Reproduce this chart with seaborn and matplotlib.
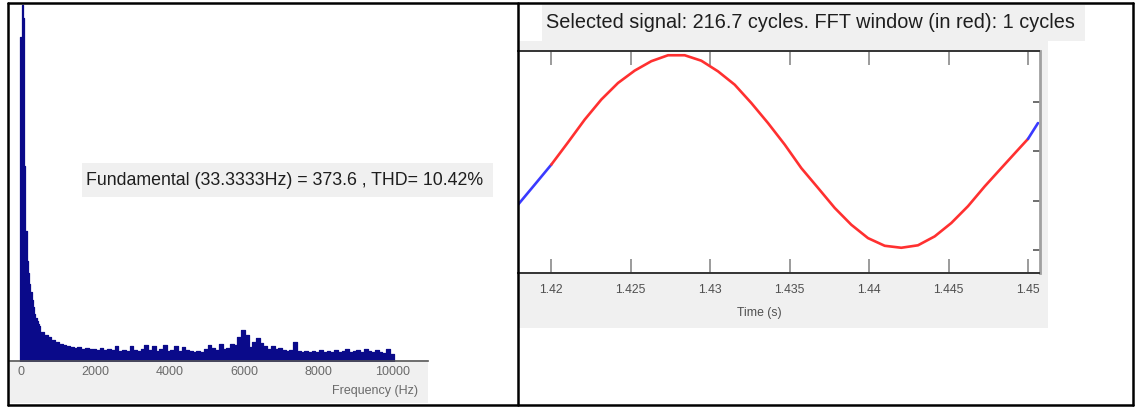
import numpy as np
import pandas as pd
import matplotlib
matplotlib.use("Agg")
import matplotlib.pyplot as plt
from matplotlib.patches import Rectangle
from matplotlib.lines import Line2D
import seaborn as sns

# ---------------- data ----------------
# FFT spectrum (left panel): 33.33 Hz bins up to 500 Hz, then 100 Hz bins up to 10 kHz
low_freq_step = 100.0 / 3.0
low_vals = [340, 373.6, 360, 205, 136, 105, 92, 81, 72, 64, 56, 49, 45, 42, 39, 36]
high_freq_step = 100.0
high_vals = [30, 27, 25, 22, 20, 18, 16, 15, 14, 13,
             14, 12, 13, 12, 12, 11, 13, 11, 12, 11,
             15, 10, 11, 10, 15, 11, 10, 12, 17, 11,
             15, 10, 12, 16, 10, 11, 15, 10, 14, 11,
             10, 9, 10, 9, 12, 17, 13, 11, 18, 12,
             13, 18, 16, 25, 32, 27, 14, 20, 24, 19,
             15, 12, 15, 12, 13, 11, 10, 11, 20, 10,
             9, 10, 9, 10, 9, 11, 9, 10, 9, 11,
             9, 10, 12, 9, 10, 11, 9, 12, 10, 9,
             11, 9, 8, 12, 7]
freq_ticks = [0, 2000, 4000, 6000, 8000, 10000]

# selected signal (right panel)
sig_time = [1.417904, 1.418955, 1.420000, 1.421051, 1.422102, 1.423147, 1.424198,
            1.425249, 1.426293, 1.427344, 1.428395, 1.429440, 1.430491, 1.431542,
            1.432587, 1.433638, 1.434689, 1.435733, 1.436784, 1.437835, 1.438880,
            1.439931, 1.440982, 1.442026, 1.443077, 1.444128, 1.445173, 1.446224,
            1.447275, 1.448320, 1.449371, 1.450000, 1.450629]
sig_value = [-216, -135, -54, 36, 128, 209, 276,
             326, 364, 388, 388, 366, 323, 269,
             195, 114, 27, -68, -148, -229, -297,
             -351, -382, -390, -380, -344, -290, -222,
             -142, -68, 6, 50, 114]
win_start, win_end = 1.420, 1.450
time_ticks = [1.42, 1.425, 1.43, 1.435, 1.44, 1.445, 1.45]
time_ticklabels = ["1.42", "1.425", "1.43", "1.435", "1.44", "1.445", "1.45"]
sig_yticks = [-400, -200, 0, 200]

title_text = "Selected signal: 216.7 cycles. FFT window (in red): 1 cycles"
note_text = "Fundamental (33.3333Hz) = 373.6 , THD= 10.42%"

# ---------------- style ----------------
sns.set_theme(style="white")
plt.rcParams["font.family"] = ["Liberation Sans", "DejaVu Sans"]
tick_family = ["Liberation Sans", "DejaVu Sans"]

W, H = 1135, 407
fig = plt.figure(figsize=(W / 100, H / 100), dpi=100)
fig.patch.set_facecolor("white")


def fx(px):
    return px / W


def fy(py):
    return 1 - py / H


def rect(x0, y0, x1, y1, color, z):
    fig.add_artist(Rectangle((fx(x0), fy(y1)), fx(x1) - fx(x0), fy(y0) - fy(y1),
                             transform=fig.transFigure, facecolor=color,
                             edgecolor="none", zorder=z))


GREY = "#f0f0f0"

# ---------------- left panel: spectrum ----------------
rect(9, 362, 428, 403, GREY, -1)
axL = fig.add_axes([fx(10), fy(360.7), fx(428) - fx(10), fy(3) - fy(360.7)])
axL.set_facecolor("white")

low_centers = [i * low_freq_step for i in range(len(low_vals))]
high_first = low_centers[-1] + low_freq_step / 2 + high_freq_step / 2
high_centers = [high_first + i * high_freq_step for i in range(len(high_vals))]
centers = low_centers + high_centers
edges = ([c - low_freq_step / 2 for c in low_centers]
         + [low_centers[-1] + low_freq_step / 2]
         + [c + high_freq_step / 2 for c in high_centers])
spec = pd.DataFrame({"freq": centers, "mag": low_vals + high_vals})
sns.histplot(data=spec, x="freq", weights="mag", bins=edges, element="step",
             fill=True, color="#0a0a8a", alpha=1.0, linewidth=0.9, ax=axL)
axL.set_xlim(-296, 10941)
axL.set_ylim(0, 376)
axL.set_xticks(freq_ticks)
axL.set_xticklabels([str(v) for v in freq_ticks], family=tick_family,
                    fontsize=9, color="#6a6a6a")
axL.set_yticks([])
axL.set_xlabel("")
axL.set_ylabel("")
axL.tick_params(axis="x", length=0, pad=4)
for s in ["left", "top", "right"]:
    axL.spines[s].set_visible(False)
axL.spines["bottom"].set_color("#555555")
axL.spines["bottom"].set_linewidth(1.2)
fig.text(fx(418), fy(391), "Frequency (Hz)", ha="right", va="center",
         family=tick_family, fontsize=9, color="#6a6a6a")

# annotation box
rect(82, 163, 493, 197, GREY, 3)
fig.text(fx(86), fy(181), note_text, ha="left", va="center", fontsize=12.8,
         color="#1e1e1e", zorder=4)

# ---------------- right panel: signal ----------------
rect(518, 40.7, 1048, 328, GREY, -1)
rect(542, 5, 1085, 40.7, GREY, -1)
fig.text(fx(810), fy(23), title_text, ha="center", va="center", fontsize=14.3,
         color="#1e1e1e")

axR = fig.add_axes([fx(518), fy(273), fx(1039.5) - fx(518), fy(51.3) - fy(273)])
axR.set_facecolor("white")
pre_t = [t for t in sig_time if t <= win_start]
pre_v = [v for t, v in zip(sig_time, sig_value) if t <= win_start]
win_t = [t for t in sig_time if win_start <= t <= win_end]
win_v = [v for t, v in zip(sig_time, sig_value) if win_start <= t <= win_end]
post_t = [t for t in sig_time if t >= win_end]
post_v = [v for t, v in zip(sig_time, sig_value) if t >= win_end]
sig = pd.DataFrame({
    "time": pre_t + win_t + post_t,
    "value": pre_v + win_v + post_v,
    "part": ["pre"] * len(pre_t) + ["win"] * len(win_t) + ["post"] * len(post_t),
})
sns.lineplot(data=sig, x="time", y="value", hue="part", units="part",
             estimator=None, sort=True,
             palette={"pre": "#3a3aff", "win": "#ff3030", "post": "#3a3aff"},
             linewidth=1.9, legend=False, ax=axR)
axR.set_xlim(1.417904, 1.450724)
axR.set_ylim(-492, 404)
axR.set_xticks(time_ticks)
axR.set_xticklabels(time_ticklabels, family=tick_family, fontsize=8.8,
                    color="#505050")
axR.set_yticks(sig_yticks)
axR.set_xlabel("")
axR.set_ylabel("")
axR.tick_params(axis="x", direction="in", length=10, width=1.2, color="#8a8a8a",
                top=True, bottom=True, pad=8)
axR.tick_params(axis="y", direction="in", length=5, width=1.2, color="#555555",
                left=False, right=True, labelleft=False, labelright=False)
axR.spines["left"].set_visible(False)
axR.spines["top"].set_color("#333333")
axR.spines["bottom"].set_color("#333333")
axR.spines["top"].set_linewidth(1.4)
axR.spines["bottom"].set_linewidth(1.4)
axR.spines["right"].set_color("#a0a0a0")
axR.spines["right"].set_linewidth(2.0)
fig.text(fx(759), fy(313), "Time (s)", ha="center", va="center",
         family=tick_family, fontsize=8.8, color="#505050")

# ---------------- table borders ----------------
def line(x0, y0, x1, y1):
    fig.add_artist(Line2D([fx(x0), fx(x1)], [fy(y0), fy(y1)], transform=fig.transFigure,
                          color="black", linewidth=1.8, zorder=10))


line(8, 3, 1133, 3)
line(8, 405, 1133, 405)
line(8, 3, 8, 405)
line(518, 3, 518, 405)
line(1133, 3, 1133, 405)

fig.savefig("out.png", dpi=100)
